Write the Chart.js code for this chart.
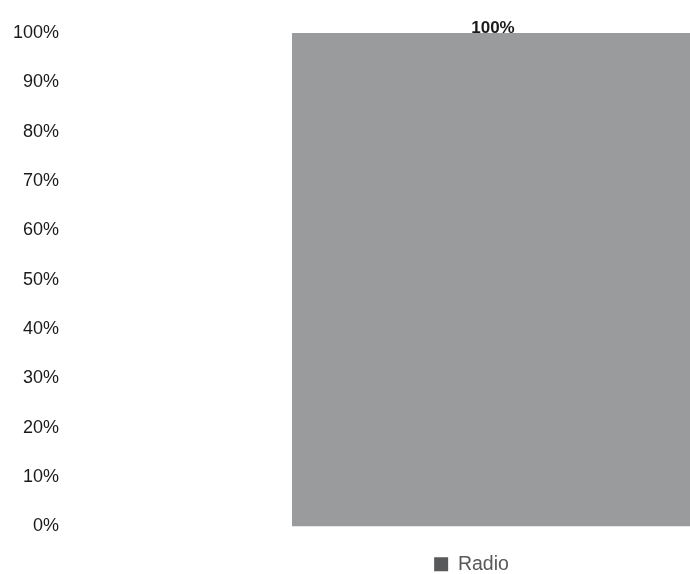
<!DOCTYPE html>
<html>
<head>
<meta charset="utf-8">
<script src="https://cdn.jsdelivr.net/npm/chart.js@4/dist/chart.umd.min.js"></script>
<style>
html,body{margin:0;padding:0;background:#fff;overflow:hidden;width:690px;height:574px;}
#wrap{position:absolute;left:0;top:0;width:943px;height:584px;}
</style>
</head>
<body>
<div id="wrap"><canvas id="c" width="943" height="584"></canvas></div>
<script>
const categories = ["Radio"];
const seriesName = "Radio";
const values = [100];
const yTicks = [0,10,20,30,40,50,60,70,80,90,100];

const FONT = '"Liberation Sans", Arial, sans-serif';

const valueLabels = {
  id: 'valueLabels',
  afterDatasetsDraw(chart) {
    const ctx = chart.ctx;
    ctx.save();
    ctx.font = 'bold 17px ' + FONT;
    ctx.fillStyle = '#1a1a1a';
    ctx.textAlign = 'center';
    ctx.textBaseline = 'alphabetic';
    chart.getDatasetMeta(0).data.forEach((bar, i) => {
      ctx.fillText(values[i] + '%', bar.x - 1, bar.y);
    });
    ctx.restore();
  }
};

new Chart(document.getElementById('c'), {
  type: 'bar',
  data: {
    labels: categories,
    datasets: [{
      label: seriesName,
      data: values,
      backgroundColor: '#999b9c',
      borderWidth: 0,
      barPercentage: 0.4687,
      categoryPercentage: 1.0,
      yAxisID: 'y'
    }]
  },
  options: {
    responsive: false,
    animation: false,
    devicePixelRatio: 1,
    layout: { padding: { top: 33, right: 0, left: 0, bottom: 0 } },
    scales: {
      x: {
        display: true,
        grid: { display: false, drawTicks: false },
        border: { display: false },
        ticks: { display: false },
        afterFit(s) { s.height = 28; }
      },
      y: {
        position: 'left',
        min: 0, max: 100,
        afterBuildTicks(axis) { axis.ticks = yTicks.map(v => ({ value: v })); },
        afterFit(s) { s.width = 63; },
        grid: { display: false, drawTicks: false },
        border: { display: false },
        ticks: {
          color: '#1a1a1a',
          font: { family: FONT, size: 18 },
          padding: 4,
          callback: v => v + '%'
        }
      },
      y2: {
        position: 'right',
        display: true,
        min: 0, max: 100,
        grid: { display: false, drawTicks: false },
        border: { display: false },
        ticks: { display: false },
        afterFit(s) { s.width = 18; }
      }
    },
    plugins: {
      legend: {
        position: 'bottom',
        labels: {
          boxWidth: 14, boxHeight: 14,
          padding: 0,
          color: '#595959',
          font: { family: FONT, size: 19.5 },
          generateLabels(chart) {
            return [{ text: seriesName, fillStyle: '#58595b', strokeStyle: '#58595b', lineWidth: 0, fontColor: '#595959', datasetIndex: 0 }];
          }
        }
      },
      tooltip: { enabled: false }
    }
  },
  plugins: [valueLabels]
});
</script>
</body>
</html>
